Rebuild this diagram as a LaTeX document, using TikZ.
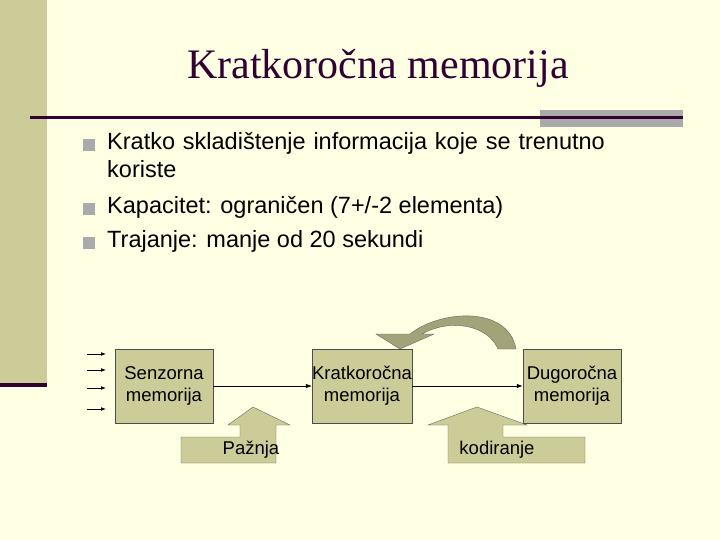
\documentclass[tikz,border=0pt]{standalone}
\usepackage{fontspec}
\setmainfont{Liberation Serif}
\setsansfont{Liberation Sans}
\usetikzlibrary{positioning,arrows.meta}
\definecolor{bgyellow}{RGB}{255,255,227}
\definecolor{khaki}{RGB}{204,204,153}
\definecolor{darkplum}{RGB}{51,0,51}
\definecolor{barGray}{RGB}{170,170,170}
\definecolor{bulletGray}{RGB}{170,170,170}

\begin{document}
\begin{tikzpicture}[x=1pt,y=-1pt,
    membox/.style={draw=black!70, fill=khaki, minimum width=98pt, minimum height=74pt,
        align=center, font=\sffamily\fontsize{18.5}{22}\selectfont, inner sep=0pt},
    blockarrow/.style={draw=black!60, fill=khaki},
    bullettext/.style={anchor=north west, align=left, font=\sffamily\fontsize{23.5}{28}\selectfont, inner sep=0pt}
    ]
        %Background
        \fill[bgyellow] (0,0) rectangle (720,540);
        \useasboundingbox (0,0) rectangle (720,540);
        \fill[khaki] (0,0) rectangle (47,385);
        \fill[darkplum] (0,383) rectangle (47,387);
        \fill[barGray] (540,110) rectangle (683,127);
        \fill[darkplum] (30,116) rectangle (683,119);

        %Title
        \node[font=\fontsize{42}{48}\selectfont, text=darkplum] (title) at (378,68) {Kratkoročna memorija};

        %Bullets
        \foreach \yb in {145,209,243}
            \fill[bulletGray] (83,\yb-6) rectangle (95,\yb+6);
        \node[bullettext, text width=560pt] (b1) at (107,132) {Kratko skladištenje informacija koje se trenutno\\koriste};
        \node[bullettext] (b2) at (107,196) {Kapacitet: ograničen (7+/-2 elementa)};
        \node[bullettext] (b3) at (107,230) {Trajanje: manje od 20 sekundi};

        %Block arrows
        \draw[blockarrow] (181,437) -- (240,437) -- (240,425) -- (228,425) -- (253,407)
            -- (290,425) -- (276,425) -- (276,463) -- (181,463) -- cycle;
        \draw[blockarrow] (448,463) -- (448,425) -- (428,425) -- (477,407) -- (527,425)
            -- (503,425) -- (503,437) -- (585,437) -- (585,463) -- cycle;
        \draw[blockarrow, fill=khaki!80!black] (516,349) .. controls (508,305) and (440,310) .. (410,334)
            -- (376,334) -- (400,349) -- (434,334) -- (422,334)
            .. controls (450,318) and (488,325) .. (498,349) -- cycle;

        %Nodes
        \node[membox] (senz) at (164,386) {Senzorna\\memorija};
        \node[membox] (kratko) at (362,386) {Kratkoročna\\memorija};
        \node[membox] (dugo) at (572,386) {Dugoročna\\memorija};
        \node[font=\sffamily\fontsize{18.5}{22}\selectfont, inner sep=0pt] (paznja) at (251,450) {Pažnja};
        \node[font=\sffamily\fontsize{18.5}{22}\selectfont, inner sep=0pt] (kodiranje) at (497,450) {kodiranje};

        %Lines
        \draw[-{Latex[length=6pt]}, thick] (senz.east) -- (kratko.west);
        \draw[-{Latex[length=6pt]}, thick] (kratko.east) -- (dugo.west);
        \foreach \ya in {354,370,388,409}
            \draw[-{Latex[length=5pt]}, thick] (87,\ya) -- (106,\ya);
\end{tikzpicture}
\end{document}
